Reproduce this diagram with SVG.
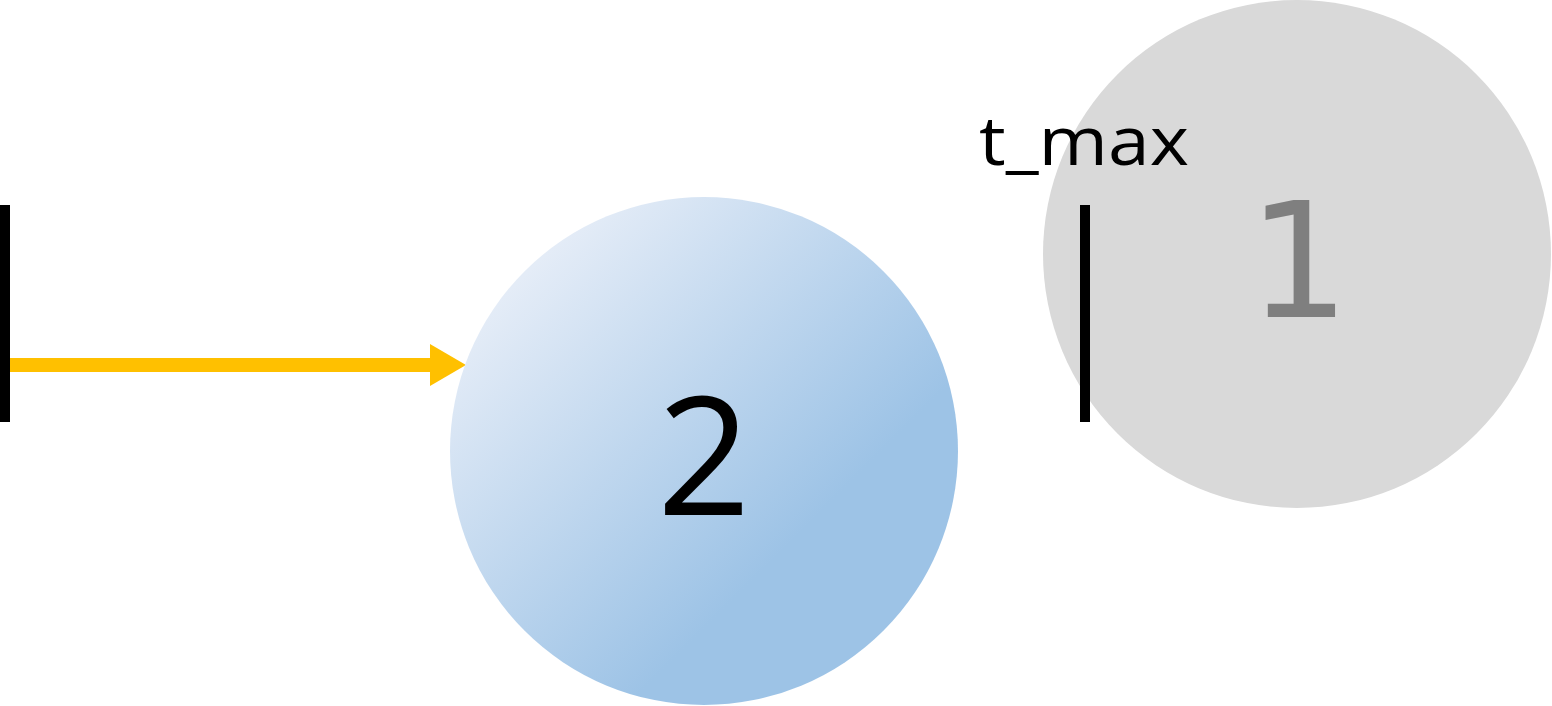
<svg xmlns="http://www.w3.org/2000/svg" width="1552" height="706" viewBox="0 0 1552 706">
<style>
.num{font-family:"Open Sans","Noto Sans","Liberation Sans",sans-serif;font-size:164px;text-anchor:middle}
.one{font-family:"DejaVu Sans","Liberation Sans",sans-serif;font-size:160px}
.lbl{font-family:"Open Sans","Noto Sans","Liberation Sans",sans-serif;font-size:68px;fill:#000}
.bar{fill:#000}
</style>
<defs>
<linearGradient id="blueGrad" x1="0.15" y1="0.15" x2="0.85" y2="0.85">
<stop offset="0" stop-color="#e4ecf7"/>
<stop offset="0.75" stop-color="#9dc3e6"/>
<stop offset="1" stop-color="#9dc3e6"/>
</linearGradient>
</defs>
<rect width="1552" height="706" fill="#fff"/>
<g id="node1">
<circle cx="1297" cy="254" r="254" fill="#d9d9d9"/>
<text class="num one" x="1299" y="317" fill="#7f7f7f">1</text>
</g>
<g id="tmax">
<rect class="bar" x="1080" y="205" width="10" height="217"/>
<text class="lbl" x="979" y="165" textLength="210" lengthAdjust="spacingAndGlyphs">t_max</text>
</g>
<g id="start">
<rect class="bar" x="0" y="205" width="10" height="217"/>
</g>
<g id="connectors">
<line x1="10" y1="365" x2="432" y2="365" stroke="#ffc000" stroke-width="14"/>
<polygon points="430,344 466,365 430,386" fill="#ffc000"/>
</g>
<g id="node2">
<circle cx="704" cy="451" r="254" fill="url(#blueGrad)"/>
<text class="num" x="704" y="515" fill="#000">2</text>
</g>
</svg>
